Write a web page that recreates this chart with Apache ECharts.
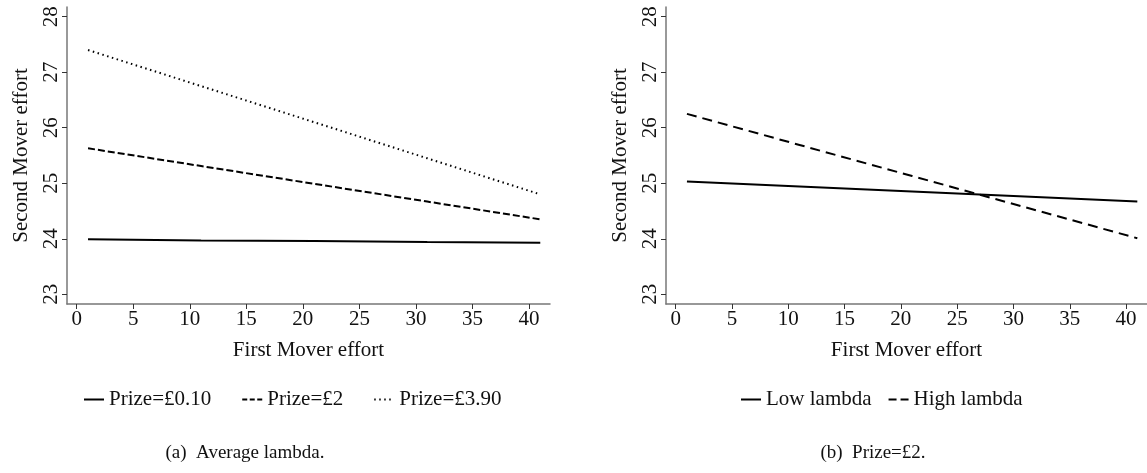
<!DOCTYPE html>
<html>
<head>
<meta charset="utf-8">
<script src="https://cdn.jsdelivr.net/npm/echarts@6/dist/echarts.min.js"></script>
<style>
html,body{margin:0;padding:0;background:#fff;}
#main{width:1147px;height:473px;}
</style>
</head>
<body>
<div id="main"></div>
<script>
// ---- data ----
var xVals = [1, 11, 21, 31, 41];
var xTicks = [0, 5, 10, 15, 20, 25, 30, 35, 40];
var yTicks = [23, 24, 25, 26, 27, 28];
// panel (a): average lambda
var prize010 = [23.99, 23.97, 23.96, 23.94, 23.93];
var prize2   = [25.63, 25.31, 24.99, 24.67, 24.35];
var prize390 = [27.40, 26.75, 26.10, 25.45, 24.80];
// panel (b): prize = £2
var lowLambda  = [25.03, 24.94, 24.85, 24.76, 24.67];
var highLambda = [26.25, 25.69, 25.13, 24.57, 24.01];

function pairs(ys){ return xVals.map(function(x,i){ return [x, ys[i]]; }); }

var FONT = 'Liberation Serif';
var FS = 21;

function xAxisCfg(idx){
  return {
    type:'value', gridIndex:idx, min:-0.86, max:41.86,
    name:'First Mover effort', nameLocation:'middle', nameGap:36,
    nameTextStyle:{fontFamily:FONT,fontSize:FS,color:'#111'},
    axisLine:{show:true,onZero:false,lineStyle:{color:'#777',width:1.5}},
    axisTick:{show:true,length:5,customValues:xTicks,lineStyle:{color:'#333',width:1}},
    axisLabel:{customValues:xTicks,fontFamily:FONT,fontSize:FS,color:'#111',margin:5},
    splitLine:{show:false}
  };
}
function yAxisCfg(idx){
  return {
    type:'value', gridIndex:idx, min:22.825, max:28.175,
    name:'Second Mover effort', nameLocation:'middle', nameGap:35, nameRotate:90,
    nameTextStyle:{fontFamily:FONT,fontSize:FS,color:'#111'},
    axisLine:{show:true,onZero:false,lineStyle:{color:'#777',width:1.5}},
    axisTick:{show:true,length:5,customValues:yTicks,lineStyle:{color:'#333',width:1}},
    axisLabel:{customValues:yTicks,rotate:90,fontFamily:FONT,fontSize:FS,color:'#111',margin:5},
    splitLine:{show:false}
  };
}
function lineSeries(name, data, xi, dash){
  return {
    type:'line', name:name, xAxisIndex:xi, yAxisIndex:xi,
    data:pairs(data), symbol:'none', showSymbol:false, smooth:false,
    lineStyle:{color:'#000',width:2,type:dash},
    itemStyle:{color:'#000'},
    emphasis:{disabled:true}, animation:false
  };
}
var legendCommon = {
  itemWidth:20, itemHeight:14,
  itemStyle:{opacity:0},
  textStyle:{fontFamily:FONT,fontSize:FS,color:'#111'},
  selectedMode:false
};

var chart = echarts.init(document.getElementById('main'), null, {renderer:'canvas'});
chart.setOption({
  backgroundColor:'#fff',
  animation:false,
  grid:[
    {left:67, top:7, width:483, height:297},
    {left:666, top:7, width:482, height:297}
  ],
  xAxis:[xAxisCfg(0), xAxisCfg(1)],
  yAxis:[yAxisCfg(0), yAxisCfg(1)],
  legend:[
    Object.assign({left:78, top:384, itemGap:30,
     data:['Prize=£0.10',
           {name:'Prize=£2', lineStyle:{type:[5,2.5]}},
           'Prize=£3.90']}, legendCommon),
    Object.assign({left:735, top:384, itemGap:16,
     data:['Low lambda', {name:'High lambda', lineStyle:{type:[8,4]}}]}, legendCommon)
  ],
  title:[
    {text:'(a)  Average lambda.', left:240, top:439, textAlign:'center',
     textStyle:{fontFamily:FONT,fontSize:19,fontWeight:'normal',color:'#111'}},
    {text:'(b)  Prize=£2.', left:868, top:439, textAlign:'center',
     textStyle:{fontFamily:FONT,fontSize:19,fontWeight:'normal',color:'#111'}}
  ],
  series:[
    lineSeries('Prize=£0.10', prize010, 0, 'solid'),
    lineSeries('Prize=£2', prize2, 0, [7,3]),
    lineSeries('Prize=£3.90', prize390, 0, [1.5,3.5]),
    lineSeries('Low lambda', lowLambda, 1, 'solid'),
    lineSeries('High lambda', highLambda, 1, [10,6])
  ]
});
</script>
</body>
</html>
